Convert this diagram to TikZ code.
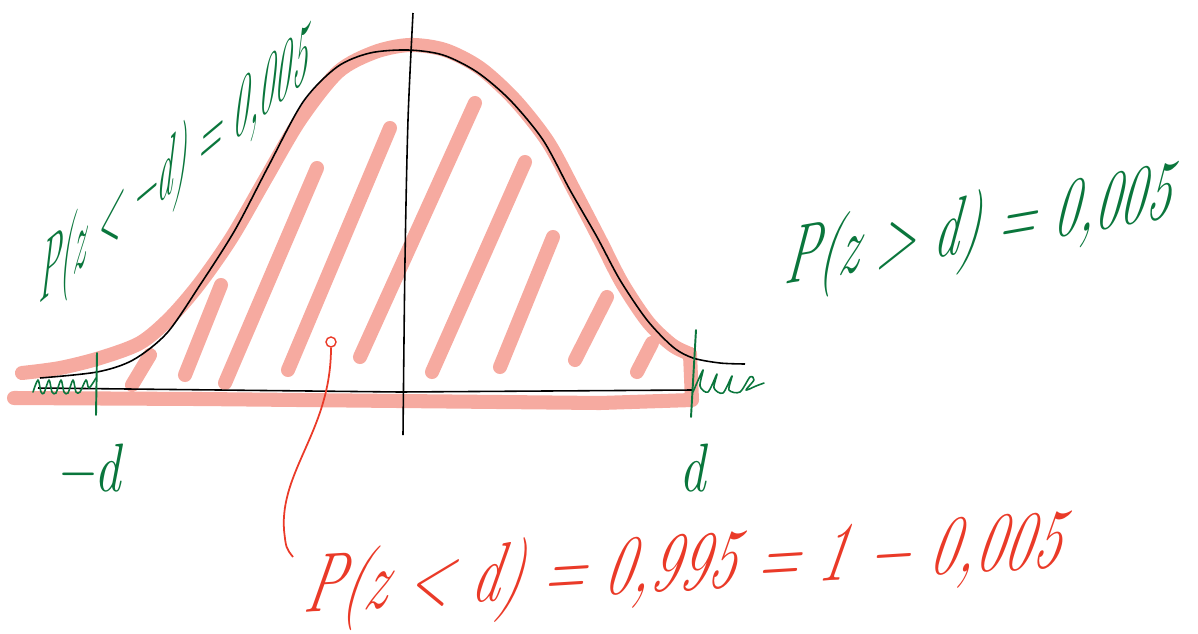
\documentclass[tikz,border=0pt]{standalone}
\usepackage{xcolor}
\usepackage{amsmath,amssymb}
\usepackage{tikz}
\usetikzlibrary{positioning,calc}

\definecolor{hatchpink}{RGB}{246,170,160}
\definecolor{inkgreen}{RGB}{10,118,60}
\definecolor{inkred}{RGB}{234,58,40}

\begin{document}
\begin{tikzpicture}[x=0.02cm, y=-0.02cm,
  marker/.style={draw=hatchpink, line width=8pt, line cap=round, line join=round},
  pen/.style={line width=0.9pt},
  greenpen/.style={draw=inkgreen, line width=1.1pt, line cap=round, line join=round},
  hand/.style={inner sep=0pt, text=inkgreen}]
% sketch of a normal density, two tails cut off at -d and d
\useasboundingbox (0,0) rectangle (1198,633);

% pink marker: outline and hatching
\draw[marker] plot[smooth] coordinates {(22,373) (60,368) (100,358) (140,343) (170,318)
  (200,283) (232,237) (266,178) (300,120) (338,72) (375,52) (410,45) (445,50) (480,68)
  (515,100) (548,142) (575,192) (600,240) (622,283) (648,322) (672,345) (690,354)};
\draw[marker] (690,354) -- (692,400) -- (600,403) -- (400,401) -- (200,399) -- (14,398);
\foreach \xa/\ya/\xb/\yb in {132/385/150/355, 185/375/221/285, 225/383/317/168,
    288/370/390/128, 360/357/475/103, 432/372/525/162, 500/367/553/237,
    575/360/607/297, 637/372/652/343}
  \draw[marker] (\xa,\ya) -- (\xb,\yb);

% black pen: axes and curve
\draw[pen] plot[smooth] coordinates {(413,13) (408,120) (405,260) (403,435)};
\draw[pen] (38,388) -- (400,392) -- (692,390);
\draw[pen] plot[smooth] coordinates {(40,378) (97,372) (133,360) (167,333) (200,285)
  (235,230) (268,167) (303,102) (337,67) (370,53) (408,50) (443,55) (477,72) (510,100)
  (543,140) (570,190) (597,237) (620,280) (647,320) (673,347) (693,358) (720,363) (745,364)};

% green pen: cuts, tails, labels
\draw[greenpen] (97,353) -- (96,415);
\draw[greenpen] (696,330) -- (691,417);
\draw[greenpen, line width=0.9pt] plot[smooth] coordinates {(33,392) (38,380) (41,392) (44,393)
  (49,380) (52,392) (56,393) (61,380) (64,392) (68,393) (73,380) (76,392) (80,392)
  (86,380) (89,388) (96,378)};
\draw[greenpen, line width=0.9pt] plot[smooth] coordinates {(693,392) (703,370) (700,386)
  (708,392) (717,374) (714,388) (723,393) (732,376) (729,390) (740,392) (750,377)
  (754,380) (746,390) (756,386) (764,383)};

\node[hand, rotate=40, xslant=0.9, yscale=1.5, anchor=base west,
  font=\fontsize{24}{24}\selectfont\itshape] (lblLeft) at (38,305) {P(z < −d) = 0,005};
\node[hand, rotate=10, xslant=0.3, yscale=1.55, anchor=base west,
  font=\fontsize{29.5}{30}\selectfont\itshape] (lblRight) at (783,285) {P(z > d) = 0,005};
\node[hand, yscale=1.3, font=\fontsize{30}{30}\selectfont\itshape] (dLeft) at (88,468) {−d};
\node[hand, yscale=1.3, font=\fontsize{30}{30}\selectfont\itshape] (dRight) at (693,468) {d};

% red pen: the middle area
\node[hand, text=inkred, rotate=3.5, xslant=0.25, yscale=1.45, anchor=base west,
  font=\fontsize{32.5}{33}\selectfont\itshape] (lblTotal) at (302,613)
  {P(z < d) = 0,995 = 1 − 0,005};
\node[circle, draw=inkred, line width=0.8pt, inner sep=0pt, minimum size=0.2cm] (dot) at (331,342) {};
\coordinate (tip) at (293,557);
\draw[inkred, line width=1pt] (dot.south) .. controls (331,430) and (280,470) .. (284,530)
  .. controls (286,548) .. (tip);
\end{tikzpicture}
\end{document}
